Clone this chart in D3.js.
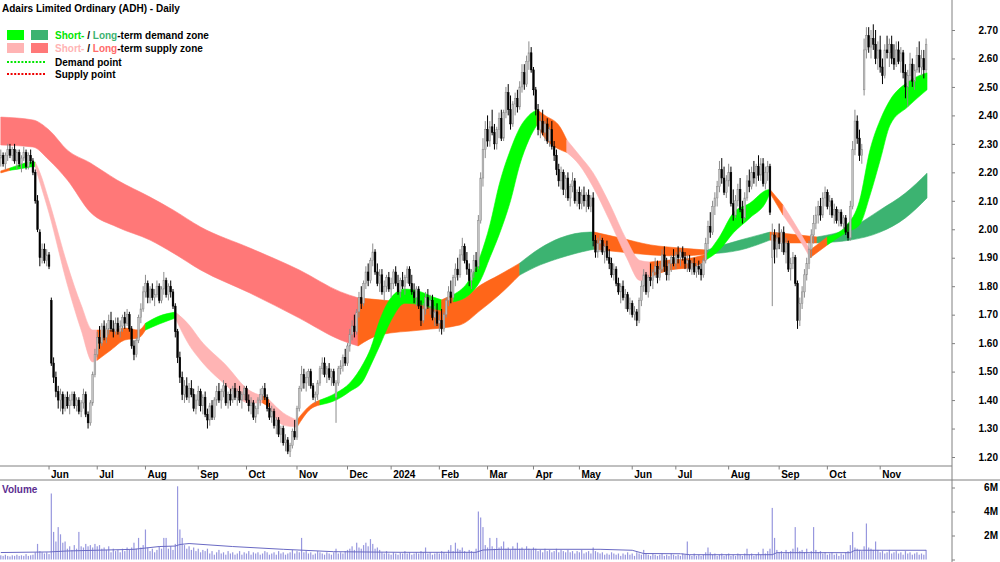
<!DOCTYPE html>
<html>
<head>
<meta charset="utf-8">
<script src="https://cdn.jsdelivr.net/npm/d3@7"></script>
<style>
body { margin: 0; background: #fff; }
svg { display: block; }
text { font-family: "Liberation Sans", Arial, sans-serif; font-size: 10px; font-weight: bold; }
</style>
</head>
<body>
<svg id="chart" width="1000" height="562"></svg>
<script>
// trading calendar (ASX), May 2023 - Nov 2024
var firstDay = "2023-05-03", lastDay = "2024-11-30";
var holidays = ["2023-06-12","2023-12-25","2023-12-26","2024-01-01","2024-01-26","2024-03-29","2024-04-01","2024-04-25","2024-06-10"];

// daily candles [open, high, low, close]
var ohlc = [
// 0-9
[2.25,2.28,2.22,2.26],[2.26,2.27,2.22,2.23],[2.23,2.27,2.21,2.26],[2.26,2.30,2.24,2.28],[2.28,2.30,2.25,2.26],[2.26,2.29,2.24,2.28],[2.28,2.30,2.23,2.24],[2.24,2.28,2.21,2.27],[2.27,2.28,2.22,2.23],[2.23,2.26,2.20,2.25],
// 10-19
[2.25,2.29,2.24,2.27],[2.27,2.28,2.21,2.22],[2.22,2.27,2.21,2.26],[2.26,2.28,2.23,2.24],[2.24,2.25,2.19,2.20],[2.20,2.21,2.09,2.10],[2.10,2.12,1.99,2.00],[1.99,2.00,1.87,1.90],[1.90,1.95,1.88,1.93],[1.93,1.95,1.88,1.89],
// 20-29
[1.89,1.93,1.87,1.91],[1.91,1.92,1.86,1.87],[1.75,1.76,1.52,1.53],[1.53,1.55,1.46,1.48],[1.48,1.50,1.41,1.43],[1.43,1.45,1.37,1.40],[1.40,1.44,1.36,1.42],[1.42,1.43,1.35,1.37],[1.37,1.42,1.36,1.41],[1.41,1.43,1.37,1.38],
// 30-39
[1.38,1.42,1.35,1.40],[1.40,1.43,1.38,1.42],[1.42,1.43,1.37,1.38],[1.38,1.41,1.36,1.40],[1.40,1.41,1.35,1.36],[1.36,1.40,1.34,1.39],[1.39,1.44,1.37,1.42],[1.42,1.43,1.34,1.35],[1.35,1.36,1.30,1.32],[1.32,1.40,1.31,1.39],
// 40-49
[1.39,1.50,1.38,1.49],[1.49,1.58,1.48,1.56],[1.56,1.64,1.55,1.62],[1.62,1.66,1.58,1.60],[1.60,1.67,1.59,1.66],[1.66,1.68,1.61,1.62],[1.62,1.67,1.60,1.65],[1.65,1.70,1.63,1.68],[1.68,1.71,1.64,1.65],[1.65,1.68,1.62,1.64],
// 50-59
[1.64,1.69,1.63,1.67],[1.67,1.69,1.63,1.64],[1.64,1.68,1.62,1.66],[1.66,1.70,1.64,1.69],[1.69,1.71,1.65,1.67],[1.67,1.72,1.66,1.70],[1.70,1.71,1.64,1.65],[1.65,1.66,1.58,1.59],[1.59,1.61,1.54,1.56],[1.56,1.62,1.55,1.61],
// 60-69
[1.61,1.70,1.60,1.69],[1.69,1.74,1.67,1.72],[1.72,1.80,1.71,1.78],[1.78,1.84,1.76,1.81],[1.81,1.82,1.74,1.76],[1.76,1.80,1.74,1.79],[1.79,1.81,1.75,1.76],[1.76,1.79,1.73,1.77],[1.77,1.82,1.76,1.80],[1.80,1.81,1.74,1.75],
// 70-79
[1.75,1.80,1.74,1.79],[1.79,1.85,1.77,1.82],[1.82,1.83,1.76,1.77],[1.77,1.81,1.75,1.80],[1.80,1.82,1.76,1.78],[1.78,1.79,1.72,1.73],[1.73,1.74,1.62,1.64],[1.64,1.65,1.53,1.55],[1.55,1.57,1.46,1.48],[1.48,1.50,1.40,1.42],
// 80-89
[1.42,1.47,1.39,1.45],[1.45,1.48,1.40,1.41],[1.41,1.46,1.39,1.44],[1.44,1.47,1.41,1.42],[1.42,1.44,1.36,1.37],[1.37,1.42,1.35,1.40],[1.40,1.45,1.38,1.43],[1.43,1.44,1.36,1.38],[1.38,1.42,1.35,1.41],[1.41,1.43,1.34,1.35],
// 90-99
[1.35,1.37,1.30,1.33],[1.33,1.39,1.31,1.38],[1.38,1.40,1.33,1.34],[1.34,1.41,1.33,1.40],[1.40,1.45,1.38,1.43],[1.43,1.46,1.39,1.40],[1.40,1.44,1.37,1.43],[1.43,1.47,1.41,1.45],[1.45,1.46,1.38,1.39],[1.39,1.43,1.37,1.42],
// 100-109
[1.42,1.44,1.38,1.40],[1.40,1.45,1.39,1.44],[1.44,1.46,1.40,1.41],[1.41,1.44,1.38,1.43],[1.43,1.45,1.39,1.40],[1.40,1.43,1.37,1.42],[1.42,1.45,1.40,1.44],[1.44,1.45,1.39,1.40],[1.40,1.42,1.36,1.38],[1.38,1.41,1.35,1.39],
// 110-119
[1.39,1.40,1.33,1.34],[1.34,1.38,1.32,1.37],[1.37,1.41,1.35,1.40],[1.40,1.44,1.38,1.42],[1.42,1.45,1.40,1.44],[1.44,1.46,1.40,1.41],[1.41,1.42,1.36,1.37],[1.37,1.39,1.33,1.34],[1.34,1.38,1.32,1.36],[1.36,1.37,1.30,1.31],
// 120-129
[1.31,1.34,1.28,1.33],[1.33,1.34,1.27,1.28],[1.28,1.31,1.25,1.30],[1.30,1.31,1.24,1.25],[1.25,1.28,1.22,1.26],[1.26,1.27,1.21,1.22],[1.22,1.25,1.20,1.24],[1.24,1.30,1.23,1.29],[1.29,1.33,1.26,1.27],[1.27,1.38,1.26,1.37],
// 130-139
[1.37,1.45,1.36,1.44],[1.44,1.52,1.43,1.49],[1.49,1.51,1.44,1.46],[1.46,1.50,1.43,1.48],[1.48,1.51,1.45,1.50],[1.50,1.51,1.44,1.45],[1.45,1.46,1.40,1.41],[1.41,1.43,1.39,1.42],[1.42,1.47,1.40,1.46],[1.46,1.52,1.45,1.51],
// 140-149
[1.51,1.55,1.49,1.53],[1.53,1.55,1.48,1.49],[1.49,1.52,1.46,1.51],[1.51,1.53,1.47,1.48],[1.48,1.51,1.45,1.50],[1.50,1.51,1.45,1.46],[1.41,1.47,1.32,1.46],[1.46,1.52,1.45,1.51],[1.51,1.54,1.49,1.52],[1.52,1.56,1.50,1.55],
// 150-159
[1.55,1.58,1.52,1.53],[1.53,1.60,1.52,1.59],[1.59,1.65,1.57,1.63],[1.63,1.68,1.61,1.66],[1.66,1.70,1.62,1.64],[1.64,1.72,1.63,1.71],[1.71,1.78,1.69,1.76],[1.76,1.80,1.72,1.74],[1.74,1.82,1.73,1.81],[1.81,1.87,1.79,1.85],
// 160-169
[1.85,1.88,1.80,1.82],[1.82,1.90,1.81,1.89],[1.89,1.95,1.87,1.92],[1.92,1.93,1.84,1.85],[1.85,1.88,1.80,1.81],[1.81,1.86,1.78,1.84],[1.84,1.86,1.77,1.78],[1.78,1.82,1.75,1.80],[1.80,1.84,1.78,1.83],[1.83,1.85,1.78,1.79],
// 170-179
[1.79,1.83,1.76,1.81],[1.81,1.86,1.79,1.85],[1.85,1.87,1.80,1.81],[1.81,1.84,1.77,1.78],[1.78,1.83,1.76,1.82],[1.82,1.85,1.79,1.80],[1.80,1.84,1.77,1.83],[1.83,1.87,1.81,1.86],[1.86,1.87,1.80,1.81],[1.81,1.84,1.77,1.78],
// 180-189
[1.78,1.81,1.74,1.76],[1.76,1.80,1.73,1.79],[1.79,1.80,1.72,1.73],[1.73,1.75,1.66,1.68],[1.68,1.74,1.67,1.72],[1.72,1.78,1.70,1.76],[1.76,1.79,1.72,1.73],[1.73,1.77,1.70,1.75],[1.75,1.77,1.68,1.69],[1.69,1.73,1.66,1.71],
// 190-199
[1.71,1.74,1.66,1.67],[1.67,1.70,1.64,1.68],[1.68,1.72,1.63,1.65],[1.65,1.71,1.64,1.70],[1.70,1.76,1.69,1.75],[1.75,1.80,1.73,1.78],[1.78,1.82,1.74,1.76],[1.76,1.84,1.75,1.83],[1.83,1.88,1.80,1.86],[1.86,1.90,1.82,1.84],
// 200-209
[1.84,1.93,1.83,1.91],[1.91,1.97,1.89,1.94],[1.94,1.95,1.88,1.89],[1.89,1.92,1.84,1.86],[1.86,1.88,1.80,1.82],[1.82,1.86,1.79,1.85],[1.85,1.91,1.83,1.89],[1.89,1.92,1.85,1.87],[1.87,2.05,1.86,2.03],[2.03,2.20,2.02,2.18],
// 210-219
[2.18,2.32,2.15,2.28],[2.28,2.38,2.25,2.35],[2.35,2.40,2.29,2.31],[2.31,2.38,2.29,2.36],[2.36,2.42,2.33,2.34],[2.34,2.37,2.28,2.30],[2.30,2.36,2.28,2.35],[2.35,2.41,2.32,2.39],[2.39,2.42,2.31,2.32],[2.32,2.42,2.31,2.41],
// 220-229
[2.41,2.50,2.39,2.48],[2.48,2.51,2.40,2.42],[2.42,2.47,2.35,2.37],[2.37,2.45,2.36,2.44],[2.44,2.48,2.40,2.46],[2.46,2.49,2.41,2.43],[2.43,2.52,2.42,2.50],[2.50,2.58,2.48,2.55],[2.55,2.58,2.49,2.51],[2.51,2.61,2.50,2.59],
// 230-239
[2.59,2.66,2.56,2.62],[2.62,2.64,2.55,2.56],[2.56,2.57,2.47,2.49],[2.49,2.50,2.40,2.42],[2.42,2.44,2.33,2.35],[2.35,2.40,2.32,2.38],[2.38,2.42,2.33,2.34],[2.34,2.38,2.31,2.37],[2.37,2.39,2.30,2.31],[2.31,2.36,2.29,2.35],
// 240-249
[2.35,2.38,2.28,2.29],[2.29,2.31,2.24,2.26],[2.26,2.28,2.19,2.21],[2.21,2.23,2.15,2.17],[2.17,2.22,2.14,2.20],[2.20,2.21,2.12,2.14],[2.14,2.19,2.11,2.18],[2.18,2.20,2.10,2.11],[2.11,2.16,2.08,2.15],[2.15,2.20,2.13,2.17],
// 250-259
[2.17,2.18,2.09,2.10],[2.10,2.14,2.08,2.13],[2.13,2.15,2.07,2.09],[2.09,2.14,2.07,2.12],[2.12,2.15,2.08,2.10],[2.10,2.13,2.06,2.12],[2.12,2.14,2.07,2.08],[2.08,2.12,2.06,2.11],[2.11,2.13,1.94,1.96],[1.96,1.98,1.90,1.92],
// 260-269
[1.92,1.97,1.90,1.95],[1.95,1.98,1.92,1.96],[1.96,1.97,1.91,1.92],[1.92,1.95,1.88,1.94],[1.94,1.96,1.89,1.90],[1.90,1.93,1.86,1.88],[1.88,1.90,1.83,1.84],[1.84,1.88,1.82,1.86],[1.86,1.87,1.80,1.81],[1.81,1.83,1.77,1.78],
// 270-279
[1.78,1.81,1.74,1.80],[1.80,1.82,1.75,1.76],[1.76,1.79,1.72,1.77],[1.77,1.78,1.71,1.72],[1.72,1.76,1.70,1.74],[1.74,1.75,1.69,1.70],[1.70,1.73,1.68,1.71],[1.71,1.72,1.66,1.68],[1.68,1.76,1.67,1.75],[1.75,1.82,1.73,1.80],
// 280-289
[1.80,1.86,1.78,1.84],[1.84,1.85,1.77,1.78],[1.78,1.84,1.76,1.83],[1.83,1.88,1.80,1.82],[1.82,1.86,1.79,1.85],[1.85,1.90,1.83,1.87],[1.87,1.89,1.81,1.83],[1.83,1.88,1.82,1.86],[1.86,1.93,1.85,1.91],[1.91,1.94,1.85,1.87],
// 290-299
[1.87,1.90,1.82,1.84],[1.84,1.89,1.82,1.88],[1.88,1.91,1.85,1.90],[1.90,1.93,1.87,1.88],[1.88,1.92,1.86,1.91],[1.91,1.94,1.88,1.90],[1.90,1.93,1.87,1.92],[1.92,1.94,1.89,1.90],[1.90,1.92,1.86,1.88],[1.88,1.91,1.85,1.89],
// 300-309
[1.89,1.91,1.85,1.86],[1.86,1.89,1.84,1.88],[1.88,1.90,1.84,1.85],[1.85,1.88,1.83,1.87],[1.87,1.89,1.84,1.86],[1.86,1.88,1.82,1.84],[1.84,1.90,1.83,1.89],[1.89,1.97,1.88,1.95],[1.95,2.03,1.93,2.01],[2.01,2.06,1.97,1.99],
// 310-319
[1.99,2.10,1.98,2.08],[2.08,2.13,2.05,2.11],[2.11,2.17,2.08,2.15],[2.15,2.24,2.13,2.21],[2.21,2.25,2.16,2.18],[2.18,2.22,2.12,2.13],[2.13,2.19,2.11,2.17],[2.17,2.23,2.15,2.20],[2.20,2.22,2.08,2.09],[2.09,2.14,2.03,2.05],
// 320-329
[2.05,2.12,2.04,2.10],[2.10,2.16,2.08,2.14],[2.14,2.18,2.06,2.07],[2.07,2.10,2.02,2.04],[2.04,2.13,2.03,2.11],[2.11,2.19,2.10,2.17],[2.17,2.21,2.13,2.15],[2.15,2.22,2.14,2.20],[2.20,2.24,2.16,2.18],[2.18,2.23,2.15,2.22],
// 330-339
[2.22,2.26,2.17,2.19],[2.19,2.25,2.17,2.23],[2.23,2.25,2.15,2.16],[2.16,2.22,2.14,2.20],[2.20,2.24,2.17,2.22],[2.22,2.23,2.05,2.06],[1.90,2.02,1.73,1.98],[1.98,2.00,1.88,1.93],[1.93,1.99,1.90,1.97],[1.97,2.02,1.93,1.95],
// 340-349
[1.95,2.00,1.92,1.99],[1.99,2.01,1.91,1.92],[1.92,1.97,1.88,1.95],[1.95,1.96,1.85,1.86],[1.86,1.90,1.82,1.88],[1.88,1.92,1.86,1.90],[1.90,1.91,1.80,1.81],[1.81,1.82,1.65,1.68],[1.68,1.76,1.66,1.74],[1.74,1.80,1.72,1.78],
// 350-359
[1.78,1.86,1.76,1.84],[1.84,1.90,1.82,1.88],[1.88,1.96,1.86,1.93],[1.93,2.00,1.90,1.98],[1.98,2.05,1.95,2.02],[2.02,2.08,2.00,2.05],[2.05,2.10,2.02,2.08],[2.08,2.11,2.03,2.05],[2.05,2.13,2.04,2.11],[2.11,2.15,2.08,2.13],
// 360-369
[2.13,2.14,2.07,2.08],[2.08,2.12,2.05,2.10],[2.10,2.11,2.04,2.05],[2.05,2.09,2.02,2.07],[2.07,2.08,2.02,2.03],[2.03,2.07,2.01,2.06],[2.06,2.07,2.01,2.02],[2.02,2.05,2.00,2.04],[2.04,2.05,1.98,1.99],[1.99,2.02,1.96,1.97],
// 370-379
[1.97,2.10,1.96,2.08],[2.08,2.31,2.07,2.28],[2.28,2.42,2.26,2.38],[2.38,2.40,2.30,2.32],[2.32,2.35,2.24,2.26],[2.26,2.30,2.23,2.28],[2.49,2.67,2.47,2.63],[2.63,2.71,2.60,2.68],[2.68,2.71,2.62,2.64],[2.64,2.70,2.60,2.67],
// 380-389
[2.67,2.72,2.63,2.65],[2.65,2.70,2.58,2.60],[2.60,2.66,2.56,2.63],[2.63,2.68,2.55,2.57],[2.57,2.60,2.51,2.54],[2.54,2.65,2.53,2.63],[2.63,2.68,2.60,2.62],[2.62,2.67,2.57,2.65],[2.65,2.68,2.58,2.60],[2.60,2.65,2.56,2.58],
// 390-399
[2.58,2.66,2.57,2.63],[2.63,2.66,2.58,2.59],[2.59,2.64,2.55,2.62],[2.62,2.63,2.53,2.55],[2.55,2.58,2.46,2.50],[2.50,2.56,2.43,2.54],[2.54,2.62,2.52,2.58],[2.58,2.60,2.50,2.52],[2.52,2.58,2.49,2.56],[2.56,2.64,2.55,2.61],
// 400-403
[2.61,2.66,2.55,2.57],[2.57,2.63,2.54,2.60],[2.60,2.63,2.53,2.56],[2.56,2.67,2.55,2.65]
];

// daily volume, millions
var volume = [
0.35,0.3,0.4,0.3,0.25,0.35,0.3,0.4,0.3,0.35,0.3,0.45,0.3,0.35,0.4,0.6,
1.3, 0.7,0.6,0.5,0.6,0.45,
5.5,2.3,1.5,2.7,2.1,1.4,1.5,
0.9,1.1,0.8,1.2,0.9, 2.3,
1.1,1.0,1.3,1.1,1.2,1.0,1.3,1.1,1.2,0.9,1.0,
0.8,1.1,0.6,0.9,0.7,0.8,0.6,0.9,0.7,1.0,0.8,1.0,
1.4,0.9,1.8, 1.0,1.2, 2.5,
1.0,0.7,0.9,0.6,0.8,1.1,0.9, 1.8,1.8, 0.9,1.1,0.8,1.3,
6.1,2.5,1.8,
1.2,0.9,1.1,0.8,1.0,0.7,0.9,0.6,0.8,0.7,0.9,
0.5,0.7,0.4,0.6,0.8,0.5,0.6,0.4,0.7,0.5,
0.6,0.4,0.5,0.7,0.4,0.6,0.5,0.7,0.4,0.6,
0.5,0.6,0.4,0.5,0.7,0.6,0.4,0.5,0.6,0.4,
0.7,0.5,0.6,0.4,0.5,0.6,0.8,0.5,0.7,0.6,
1.8,
0.6,0.7,0.5,0.6,0.4,0.5,0.7,0.6,0.5,0.4,
0.6,0.5,0.4,0.6,0.9,0.5,0.6,0.5,0.7,
0.8,0.9,1.1,0.8,1.4,1.0,0.9,1.2,1.4,1.1,
1.7,1.3,0.9,1.0,0.8,
0.6,0.5,0.7,0.5,0.4,0.6,0.5,0.4,0.6,0.5,
0.7,0.5,0.6,0.4,0.5,0.6,0.5,0.7,0.6,1.0,
0.5,0.6,0.4,0.5,0.6,0.5,0.7,0.6,0.5,0.8,
1.2,0.7,1.4,
0.9,0.8,1.0,0.7,0.6,0.8,0.7,0.6,0.9,
4.0,3.5,2.7,
1.2,1.0,1.8,1.1,0.9,1.8,1.0,1.1,1.5,0.9,
1.0,0.8,1.1,0.9,1.4,0.9,1.0,0.8,1.1,0.9,
0.8,1.0,0.9,0.7,0.8,0.6,0.9,0.7,0.8,0.6,
0.7,0.9,0.6,0.8,0.7,0.6,0.8,0.6,0.7,0.5,
0.7,0.6,0.8,0.5,0.6,0.7,0.5,1.0,0.7,0.6,
0.5,0.6,0.4,0.5,0.4,0.6,0.5,0.4,0.5,0.3,
0.5,0.4,0.6,0.4,0.5,0.3,0.6,0.5,0.4,
0.8,
0.5,0.4,0.3,0.5,0.4,0.3,0.4,0.5,0.3,0.4,
0.3,0.5,0.4,0.3,0.4,0.3,0.5,0.4,
1.5,
0.4,0.3,0.5,0.3,0.4,0.3,0.4,0.6,
1.0,
0.6,0.4,0.5,0.3,0.4,0.5,0.3,0.4,0.5,0.3,
0.4,0.3,0.5,0.4,0.3,0.5,
0.9,
0.4,0.5,0.3,0.4,0.6,0.4,
0.9,
0.5,0.7,0.9,
4.3,1.8,
0.8,0.6,0.7,0.5,0.8,0.6,0.7,0.9,
2.7,
1.0,0.7,0.8,0.6,0.9,0.5,0.7,
2.7,
0.8,0.6,0.7,0.5,0.6,0.4,0.5,0.6,0.4,0.5,
0.3,0.5,0.4,0.6,0.7,
1.2,2.3,
1.0,0.9,0.8,0.7,1.1,
3.0,
1.0,0.9,0.8,
1.5,
0.8,0.6,0.7,0.5,0.6,0.8,0.5,0.6,0.7,0.5,
0.6,0.4,0.7,0.5,0.6,0.4,0.5,0.6,0.4,0.5,
0.4,0.8
];

// volume moving average, read at sample days
var volAvgDay = [0, 21, 29, 58, 69, 76, 78, 82, 101, 123, 145, 174, 207, 210, 218, 261, 275, 280, 296, 300, 336, 338, 370, 372, 403];
var volAvg    = [0.58, 0.63, 0.71, 0.85, 1.08, 1.12, 1.25, 1.33, 1.08, 0.85, 0.65, 0.60, 0.60, 0.79, 0.85, 0.85, 0.77, 0.50, 0.48, 0.40, 0.40, 0.57, 0.57, 0.77, 0.77];

// short-term zone: day, upper, lower, state (d demand, s supply, n neutral)
var stDay = [0, 4, 8, 13, 15, 17, 21, 29, 35, 40,
             42, 48, 54, 60, 63, 69, 76, 82, 87, 98,
             108, 114, 117, 123, 129, 135, 139, 146, 152, 158,
             161, 165, 170, 176, 183, 189, 192, 197, 204, 209,
             213, 217, 222, 226, 230, 233.5, 237, 243.5, 246.5, 252,
             258, 265, 272.6, 278.4, 282.8, 291.5, 301.5, 307.6, 313, 319,
             326.3, 333.7, 335, 340.7, 348, 352.5, 360, 368.5, 374, 378.6,
             383, 387.3, 395, 403.4];
var stHi  = [2.205, 2.215, 2.226, 2.236, 2.236, 2.20, 2.10, 1.875, 1.734, 1.646,
             1.646, 1.646, 1.653, 1.646, 1.67, 1.695, 1.709, 1.664, 1.61, 1.523,
             1.435, 1.415, 1.40, 1.355, 1.33, 1.383, 1.40, 1.425, 1.46, 1.53,
             1.58, 1.68, 1.76, 1.79, 1.78, 1.76, 1.752, 1.77, 1.822, 1.91,
             2.015, 2.155, 2.28, 2.356, 2.40, 2.42, 2.40, 2.36, 2.314, 2.26,
             2.198, 2.092, 1.962, 1.89, 1.885, 1.892, 1.90, 1.913, 1.973, 2.057,
             2.092, 2.138, 2.14, 2.085, 1.99, 1.927, 1.973, 2.015, 2.10, 2.28,
             2.384, 2.454, 2.517, 2.55];
var stLo  = [2.198, 2.207, 2.212, 2.219, 2.22, 2.166, 2.057, 1.805, 1.646, 1.534,
             1.54, 1.576, 1.611, 1.618, 1.646, 1.667, 1.688, 1.594, 1.54, 1.453,
             1.39, 1.39, 1.375, 1.312, 1.305, 1.369, 1.383, 1.40, 1.43, 1.47,
             1.52, 1.59, 1.68, 1.74, 1.735, 1.72, 1.715, 1.745, 1.77, 1.822,
             1.90, 1.98, 2.10, 2.226, 2.314, 2.366, 2.32, 2.28, 2.27, 2.226,
             2.148, 2.033, 1.90, 1.82, 1.833, 1.857, 1.867, 1.895, 1.927, 1.987,
             2.04, 2.103, 2.127, 2.05, 1.962, 1.90, 1.945, 1.99, 2.015, 2.12,
             2.243, 2.366, 2.43, 2.49];
var stState = ("ndddssssss" + "nnnnddssss" + "snssnndddd" + "ddddddnddd" +
               "dddddnnnss" + "ssssnnnddd" + "ddnssndddd" + "dddd").split("");

// long-term zone
var ltDay = [0, 14, 21, 29, 39, 50.6, 65, 75, 87, 108.5,
             130, 148, 155.6, 165, 183, 200, 209, 217, 226, 235,
             243.5, 256.6, 258.5, 270, 283, 296, 307.6, 322, 335, 344,
             355.5, 370, 383, 394, 403.4];
var ltHi  = [2.394, 2.384, 2.349, 2.278, 2.233, 2.173, 2.113, 2.068, 2.008, 1.934,
             1.857, 1.78, 1.759, 1.752, 1.741, 1.752, 1.804, 1.839, 1.881, 1.934,
             1.969, 1.99, 1.99, 1.969, 1.945, 1.934, 1.927, 1.962, 1.99, 1.983,
             1.973, 2.004, 2.068, 2.127, 2.197];
var ltLo  = [2.296, 2.289, 2.243, 2.173, 2.06, 2.008, 1.962, 1.917, 1.857, 1.776,
             1.688, 1.611, 1.59, 1.629, 1.646, 1.664, 1.716, 1.769, 1.839, 1.875,
             1.899, 1.927, 1.93, 1.92, 1.91, 1.906, 1.913, 1.927, 1.962, 1.952,
             1.952, 1.962, 1.99, 2.04, 2.11];
var ltState = ("ssssssssss" + "ssnnnnnndd" + "ddnnnnddnn" + "ddddd").split("");

var priceTicks = [1.2, 1.3, 1.4, 1.5, 1.6, 1.7, 1.8, 1.9, 2.0, 2.1, 2.2, 2.3, 2.4, 2.5, 2.6, 2.7];
var volTicks = [2, 4, 6];

var stColor = { d: "#00ff00", s: "#ffb4b4", n: "#ff6619" };
var ltColor = { d: "#3cb371", s: "#ff7878", n: "#ff6619" };

// ---- build calendar
var hol = new Set(holidays);
var fmtDay = d3.utcFormat("%Y-%m-%d");
var dates = d3.utcDay.range(new Date(firstDay), new Date(lastDay))
    .filter(function(d) { var w = d.getUTCDay(); return w > 0 && w < 6 && !hol.has(fmtDay(d)); });

var svg = d3.select("svg#chart");
var axisX = 952;

var x = d3.scaleLinear().domain([0, 403]).range([0.8, 926.1]);
var y = d3.scaleLinear().domain([1.2, 2.7]).range([457, 30]);
var yv = d3.scaleLinear().domain([0, 6]).range([559.5, 487.5]);

svg.append("defs").append("clipPath").attr("id", "pclip")
    .append("rect").attr("x", 0).attr("y", 0).attr("width", axisX).attr("height", 466);

var plot = svg.append("g").attr("clip-path", "url(#pclip)");

function drawBand(days, hi, lo, states, colors) {
    var pts = days.map(function(d, k) { return { i: d, hi: hi[k], lo: lo[k], s: states[k] }; });
    var area = d3.area()
        .x(function(d) { return x(d.i); })
        .y0(function(d) { return y(d.lo); })
        .y1(function(d) { return y(d.hi); })
        .curve(d3.curveMonotoneX);
    var start = 0;
    for (var k = 1; k <= pts.length; k++) {
        if (k === pts.length || pts[k].s !== pts[start].s) {
            var seg = pts.slice(start, Math.min(k + 1, pts.length));
            if (seg.length > 1) {
                plot.append("path")
                    .attr("d", area(seg))
                    .attr("fill", colors[pts[start].s])
                    .attr("stroke", colors[pts[start].s])
                    .attr("stroke-width", 0.6);
            }
            start = k;
        }
    }
}

drawBand(ltDay, ltHi, ltLo, ltState, ltColor);
drawBand(stDay, stHi, stLo, stState, stColor);

// candles
var bw = 1.7;
var candle = plot.selectAll(".candle")
    .data(ohlc)
    .enter()
    .append("g")
    .attr("class", "candle");

candle.append("line")
    .attr("x1", function(d, i) { return x(i); })
    .attr("x2", function(d, i) { return x(i); })
    .attr("y1", function(d) { return y(d[1]); })
    .attr("y2", function(d) { return y(d[2]); })
    .attr("stroke", function(d) { return d[3] >= d[0] ? "#8c8c8c" : "#000"; })
    .attr("stroke-width", 1);

candle.append("rect")
    .attr("x", function(d, i) { return x(i) - bw / 2; })
    .attr("width", bw)
    .attr("y", function(d) { return y(Math.max(d[0], d[3])); })
    .attr("height", function(d) { return Math.max(1, Math.abs(y(d[0]) - y(d[3]))); })
    .attr("fill", function(d) { return d[3] >= d[0] ? "#c4c4c4" : "#000"; })
    .attr("stroke", function(d) { return d[3] >= d[0] ? "#8c8c8c" : "#000"; })
    .attr("stroke-width", 0.5);

// volume
svg.append("g").selectAll("rect")
    .data(volume)
    .enter()
    .append("rect")
    .attr("x", function(d, i) { return x(i) - 0.6; })
    .attr("width", 1.2)
    .attr("y", function(d) { return yv(d); })
    .attr("height", function(d) { return yv(0) - yv(d); })
    .attr("fill", "#9797de");

svg.append("path")
    .attr("d", d3.line()
        .x(function(d, k) { return x(volAvgDay[k]); })
        .y(function(d) { return yv(d); })(volAvg))
    .attr("fill", "none")
    .attr("stroke", "#6a6ac4")
    .attr("stroke-width", 1);

// frame lines
svg.append("line").attr("x1", 0).attr("x2", axisX).attr("y1", 466).attr("y2", 466).attr("stroke", "#808080");
svg.append("line").attr("x1", 0).attr("x2", 1000).attr("y1", 480).attr("y2", 480).attr("stroke", "#808080");
svg.append("line").attr("x1", axisX).attr("x2", axisX).attr("y1", 0).attr("y2", 562).attr("stroke", "#808080");

// price axis
svg.append("g")
    .attr("transform", "translate(" + axisX + ",0)")
    .call(d3.axisRight(y).tickValues(priceTicks).tickSize(3).tickFormat(d3.format(".2f")))
    .call(function(g) {
        g.select(".domain").remove();
        g.selectAll(".tick line").attr("stroke", "#808080");
        g.selectAll("text").attr("x", 46).attr("text-anchor", "end").attr("fill", "#000");
    })
    .attr("font-family", null).attr("font-size", null);

// volume axis
svg.append("g")
    .attr("transform", "translate(" + axisX + ",0)")
    .call(d3.axisRight(yv).tickValues([0].concat(volTicks)).tickSize(3).tickFormat(function(d) { return d ? d + "M" : ""; }))
    .call(function(g) {
        g.select(".domain").remove();
        g.selectAll(".tick line").attr("stroke", "#808080");
        g.selectAll("text").attr("x", 46).attr("text-anchor", "end").attr("fill", "#000");
    })
    .attr("font-family", null).attr("font-size", null);

// month axis
var monthTicks = [];
dates.forEach(function(d, i) {
    if (i > 0 && d.getUTCMonth() !== dates[i - 1].getUTCMonth()) monthTicks.push(i);
});
var mt = svg.append("g").selectAll("g")
    .data(monthTicks)
    .enter()
    .append("g")
    .attr("transform", function(i) { return "translate(" + x(i) + ",0)"; });
mt.append("line").attr("y1", 466).attr("y2", 469.5).attr("stroke", "#808080");
mt.append("text")
    .attr("x", 2)
    .attr("y", 478)
    .text(function(i) {
        var d = dates[i];
        return d.getUTCMonth() === 0 ? d3.utcFormat("%Y")(d) : d3.utcFormat("%b")(d);
    });

// title and legend
svg.append("text").attr("x", 2).attr("y", 11.5).text("Adairs Limited Ordinary (ADH) - Daily");
svg.append("text").attr("x", 2).attr("y", 493).attr("fill", "#5b2d90").text("Volume");

var legend = svg.append("g");
legend.append("rect").attr("x", 7).attr("y", 30).attr("width", 17).attr("height", 10).attr("fill", stColor.d);
legend.append("rect").attr("x", 31).attr("y", 30).attr("width", 17).attr("height", 10).attr("fill", ltColor.d);
legend.append("rect").attr("x", 7).attr("y", 43).attr("width", 17).attr("height", 10).attr("fill", stColor.s);
legend.append("rect").attr("x", 31).attr("y", 43).attr("width", 17).attr("height", 10).attr("fill", ltColor.s);

var t1 = legend.append("text").attr("x", 55).attr("y", 39);
t1.append("tspan").attr("fill", "#00e600").text("Short-");
t1.append("tspan").text(" / ");
t1.append("tspan").attr("fill", ltColor.d).text("Long");
t1.append("tspan").text("-term demand zone");

var t2 = legend.append("text").attr("x", 55).attr("y", 52);
t2.append("tspan").attr("fill", stColor.s).text("Short-");
t2.append("tspan").text(" / ");
t2.append("tspan").attr("fill", "#ff6a6a").text("Long");
t2.append("tspan").text("-term supply zone");

legend.append("line").attr("x1", 7).attr("x2", 46).attr("y1", 62).attr("y2", 62)
    .attr("stroke", "#00e600").attr("stroke-width", 2).attr("stroke-dasharray", "2,1.6");
legend.append("text").attr("x", 55).attr("y", 65.5).text("Demand point");
legend.append("line").attr("x1", 7).attr("x2", 46).attr("y1", 74).attr("y2", 74)
    .attr("stroke", "#ee0000").attr("stroke-width", 2).attr("stroke-dasharray", "2,1.6");
legend.append("text").attr("x", 55).attr("y", 77.5).text("Supply point");
</script>
</body>
</html>
